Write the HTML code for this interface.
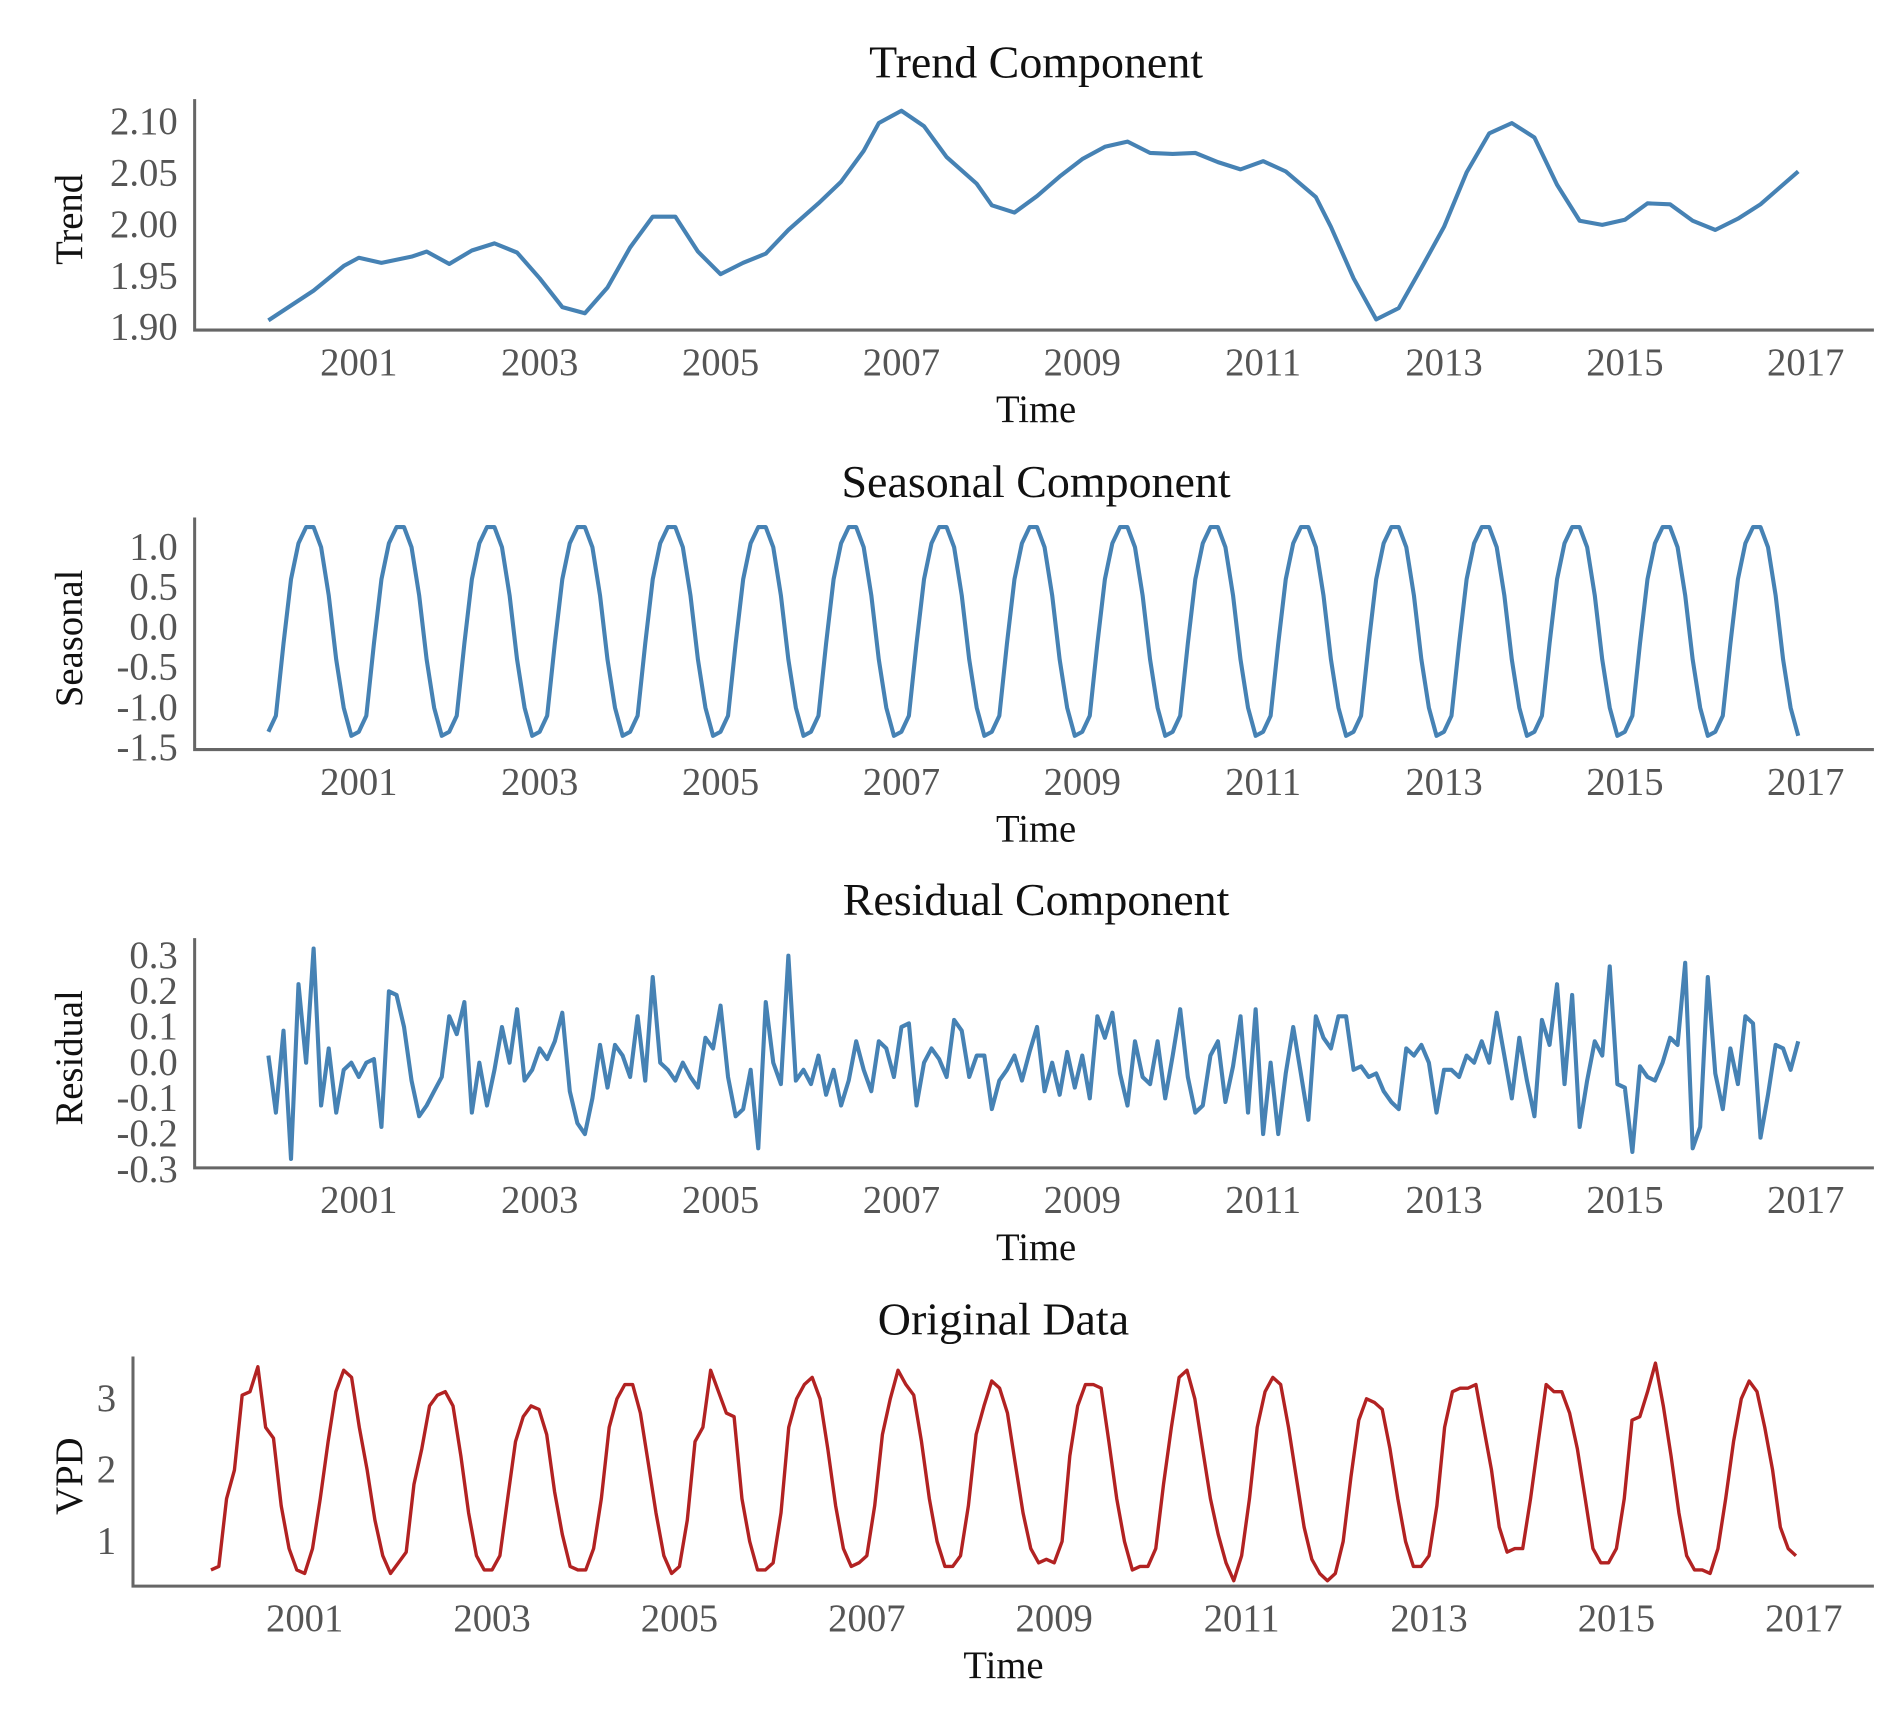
<!DOCTYPE html>
<html><head><meta charset="utf-8"><style>
html,body{margin:0;padding:0;background:#fff}
svg{display:block}
text{font-family:"Liberation Serif",serif}
.tk{fill:#555;font-size:32px}
.tt{fill:#111;font-size:38px}
.al{fill:#111;font-size:32px}
</style></head><body>
<svg id="c" width="1886" height="1724" viewBox="0 0 1560 1426" xmlns="http://www.w3.org/2000/svg"></svg>
<script>
// ---- data ----
const yearTicks = [2001,2003,2005,2007,2009,2011,2013,2015,2017];
const startYear = 2000;
const trendMonths = [0,6,10,12,15,19,21,24,27,30,33,36,39,42,45,48,51,54,57,60,63,66,69,73,76,79,81,84,87,90,94,96,99,102,105,108,111,114,117,120,123,126,129,132,135,139,141,144,147,150,153,156,159,162,165,168,171,174,177,180,183,186,189,192,195,198,203];
const trendValues = [1.907,1.936,1.96,1.968,1.963,1.969,1.974,1.962,1.975,1.982,1.973,1.948,1.92,1.914,1.939,1.978,2.008,2.008,1.974,1.952,1.963,1.972,1.995,2.021,2.042,2.072,2.099,2.111,2.096,2.066,2.04,2.019,2.012,2.028,2.047,2.064,2.076,2.081,2.07,2.069,2.07,2.061,2.054,2.062,2.052,2.027,1.998,1.948,1.908,1.919,1.958,1.998,2.051,2.089,2.099,2.085,2.039,2.004,2.0,2.005,2.021,2.02,2.004,1.995,2.006,2.02,2.052];
const trendTicks = [1.90,1.95,2.00,2.05,2.10];
const seasonalPattern = [-1.3,-1.1,-0.2,0.6,1.05,1.25,1.25,1.0,0.4,-0.4,-1.0,-1.35];
const seasonalYears = 17;
const seasonalTicks = [-1.5,-1.0,-0.5,0.0,0.5,1.0];
const residualValues = [
0.02,-0.14,0.09,-0.27,0.22,0.0,0.32,-0.12,0.04,-0.14,-0.02,0.0,
-0.04,0.0,0.01,-0.18,0.2,0.19,0.1,-0.05,-0.15,-0.12,-0.08,-0.04,
0.13,0.08,0.17,-0.14,0.0,-0.12,-0.02,0.1,0.0,0.15,-0.05,-0.02,
0.04,0.01,0.06,0.14,-0.08,-0.17,-0.2,-0.1,0.05,-0.07,0.05,0.02,
-0.04,0.13,-0.05,0.24,0.0,-0.02,-0.05,0.0,-0.04,-0.07,0.07,0.04,
0.16,-0.04,-0.15,-0.13,-0.02,-0.24,0.17,0.0,-0.06,0.3,-0.05,-0.02,
-0.06,0.02,-0.09,-0.02,-0.12,-0.05,0.06,-0.02,-0.08,0.06,0.04,-0.04,
0.1,0.11,-0.12,0.0,0.04,0.01,-0.04,0.12,0.09,-0.04,0.02,0.02,
-0.13,-0.05,-0.02,0.02,-0.05,0.03,0.1,-0.08,0.0,-0.09,0.03,-0.07,
0.02,-0.1,0.13,0.07,0.14,-0.03,-0.12,0.06,-0.04,-0.06,0.06,-0.1,
0.02,0.15,-0.04,-0.14,-0.12,0.02,0.06,-0.11,-0.01,0.13,-0.14,0.15,
-0.2,0.0,-0.2,-0.03,0.1,-0.03,-0.16,0.13,0.07,0.04,0.13,0.13,
-0.02,-0.01,-0.04,-0.03,-0.08,-0.11,-0.13,0.04,0.02,0.05,0.0,-0.14,
-0.02,-0.02,-0.04,0.02,0.0,0.06,0.0,0.14,0.02,-0.1,0.07,-0.05,
-0.15,0.12,0.05,0.22,-0.06,0.19,-0.18,-0.05,0.06,0.02,0.27,-0.06,
-0.07,-0.25,-0.01,-0.04,-0.05,0.0,0.07,0.05,0.28,-0.24,-0.18,0.24,
-0.03,-0.13,0.04,-0.06,0.13,0.11,-0.21,-0.09,0.05,0.04,-0.02,0.06];
const residualTicks = [-0.3,-0.2,-0.1,0.0,0.1,0.2,0.3];
const originalValues = [
0.6,0.65,1.6,2.0,3.05,3.1,3.45,2.6,2.45,1.5,0.9,0.6,
0.55,0.9,1.6,2.4,3.1,3.4,3.3,2.6,2.0,1.3,0.8,0.55,
0.7,0.85,1.8,2.3,2.9,3.05,3.1,2.9,2.2,1.4,0.8,0.6,
0.6,0.8,1.6,2.4,2.75,2.9,2.85,2.5,1.7,1.1,0.65,0.6,
0.6,0.9,1.6,2.6,3.0,3.2,3.2,2.8,2.1,1.4,0.8,0.55,
0.65,1.3,2.4,2.6,3.4,3.1,2.8,2.75,1.6,1.0,0.6,0.6,
0.7,1.4,2.6,3.0,3.2,3.3,3.0,2.3,1.5,0.9,0.65,0.7,
0.8,1.5,2.5,3.0,3.4,3.2,3.05,2.4,1.6,1.0,0.65,0.65,
0.8,1.5,2.5,2.9,3.25,3.15,2.8,2.1,1.4,0.9,0.7,0.75,
0.7,1.0,2.2,2.9,3.2,3.2,3.15,2.4,1.6,1.0,0.6,0.65,
0.65,0.9,1.8,2.6,3.3,3.4,3.0,2.3,1.6,1.1,0.7,0.45,
0.8,1.6,2.6,3.1,3.3,3.2,2.6,1.9,1.2,0.75,0.55,0.45,
0.55,1.0,1.9,2.7,3.0,2.95,2.85,2.3,1.6,1.0,0.65,0.65,
0.8,1.5,2.6,3.1,3.15,3.15,3.2,2.6,2.0,1.2,0.85,0.9,
0.9,1.6,2.4,3.2,3.1,3.1,2.8,2.3,1.6,0.9,0.7,0.7,
0.9,1.6,2.7,2.75,3.1,3.5,2.9,2.2,1.4,0.8,0.6,0.6,
0.55,0.9,1.6,2.4,3.0,3.25,3.1,2.6,2.0,1.2,0.9,0.8];
const originalTicks = [1,2,3];

// ---- drawing ----
const NS = "http://www.w3.org/2000/svg";
const svg = document.getElementById('c');
function mk(tag, attrs, parent){const e=document.createElementNS(NS,tag);for(const k in attrs)e.setAttribute(k,attrs[k]);(parent||svg).appendChild(e);return e;}

const seasonalValues = [];
for (let y=0;y<seasonalYears;y++) for (let m=0;m<12;m++) seasonalValues.push(seasonalPattern[m]);

function panel(cfg){
  const g = mk('g',{});
  
  
  const xs = m => cfg.x0 + m*cfg.perYear/12;
  const ys = v => cfg.yRef - (v-cfg.vRef)*cfg.pxPerUnit;
  const t = mk('text',{x:cfg.cx,y:cfg.titleY,'text-anchor':'middle',class:'tt'},g);
  t.textContent = cfg.title;
  
  
  const ax = mk('path',{d:`M${cfg.ax} ${cfg.top} L${cfg.ax} ${cfg.bottom} L1550 ${cfg.bottom}`,fill:'none',stroke:'#666','stroke-width':2.5},g);
  
  
  cfg.yticks.forEach(v=>{
    const tx = mk('text',{x:cfg.ax-14,y:ys(v)+10,'text-anchor':'end',class:'tk'},g);
    tx.textContent = v.toFixed(cfg.dec);
    
    
  });
  yearTicks.forEach(yr=>{
    const tx = mk('text',{x:xs((yr-startYear)*12),y:cfg.bottom+37,'text-anchor':'middle',class:'tk'},g);
    tx.textContent = yr;
    
    
  });
  const xl = mk('text',{x:cfg.cx,y:cfg.bottom+76,'text-anchor':'middle',class:'al'},g);
  xl.textContent = 'Time';
  
  
  const yc = (cfg.top+cfg.bottom)/2+4;
  const yl = mk('text',{x:0,y:0,'text-anchor':'middle',class:'al',transform:`translate(68 ${yc}) rotate(-90)`},g);
  yl.textContent = cfg.ylabel;
  
  
  const pts = cfg.months.map((m,i)=>xs(m).toFixed(1)+','+ys(cfg.values[i]).toFixed(1)).join(' ');
  const pl = mk('polyline',{points:pts,fill:'none',stroke:cfg.color,'stroke-width':cfg.sw,'stroke-linejoin':'round'},g);
  
  
}
const monthIdx = n => Array.from({length:n},(_,i)=>i);

panel({name:'trend-panel',title:'Trend Component',ylabel:'Trend',cx:857,titleY:64,ax:161,top:82,bottom:273,x0:222,perYear:74.8,yRef:271,vRef:1.90,pxPerUnit:850,yticks:trendTicks,dec:2,months:trendMonths,values:trendValues,color:'#4682b4',sw:3.4});
panel({name:'seasonal-panel',title:'Seasonal Component',ylabel:'Seasonal',cx:857,titleY:411,ax:161,top:428,bottom:620,x0:222,perYear:74.8,yRef:519,vRef:0,pxPerUnit:66.4,yticks:seasonalTicks,dec:1,months:monthIdx(seasonalValues.length),values:seasonalValues,color:'#4682b4',sw:3.4});
panel({name:'residual-panel',title:'Residual Component',ylabel:'Residual',cx:857,titleY:757,ax:161,top:776,bottom:966,x0:222,perYear:74.8,yRef:879,vRef:0,pxPerUnit:295,yticks:residualTicks,dec:1,months:monthIdx(residualValues.length),values:residualValues,color:'#4682b4',sw:3.4});
panel({name:'original-panel',title:'Original Data',ylabel:'VPD',cx:830,titleY:1104,ax:110,top:1122,bottom:1312,x0:174.5,perYear:77.5,yRef:1157,vRef:3,pxPerUnit:59,yticks:originalTicks,dec:0,months:monthIdx(originalValues.length),values:originalValues,color:'#b22222',sw:2.8});
</script>
</body></html>
